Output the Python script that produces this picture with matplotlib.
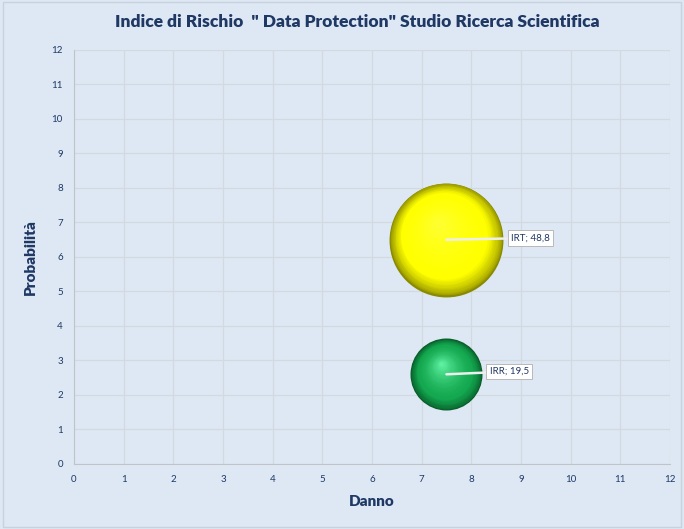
import numpy as np
import matplotlib
matplotlib.use("Agg")
import matplotlib.pyplot as plt
from matplotlib import transforms
from matplotlib.colors import to_rgb

# data
names = ["IRT", "IRR"]
danno = [7.5, 7.5]
probabilita = [6.5, 2.6]
valori = [48.8, 19.5]
etichette = ["IRT; 48,8", "IRR; 19,5"]
colori = [("#ffff30", "#ffff00", "#8a8a00"), ("#5cf0a0", "#14a850", "#075a28")]
ticks = list(range(0, 13))

plt.rcParams['font.family'] = ['Lato', 'DejaVu Sans']
navy = "#1f3864"
bg = "#dde8f4"

fig = plt.figure(figsize=(6.84, 5.29), dpi=100, facecolor=bg)
ax = fig.add_axes([0.108, 0.1229, 0.8715, 0.7826])
ax.set_facecolor(bg)

ax.set_xlim(0, 12)
ax.set_ylim(0, 12)
ax.set_xticks(ticks)
ax.set_yticks(ticks)
ax.grid(True, color="#d3d9e0", linewidth=0.9)
ax.set_axisbelow(True)
for s in ["top", "right"]:
    ax.spines[s].set_visible(False)
for s in ["bottom", "left"]:
    ax.spines[s].set_color("#c0c4c8")
ax.tick_params(length=0, labelsize=7, labelcolor=navy, pad=8)

k = 137.8  # area scale: points^2 per unit
n_layers = 45
for x, y, v, (light, mid, dark) in zip(danno, probabilita, valori, colori):
    s = k * v
    r = np.sqrt(s) / 2  # radius in points
    c_light = np.array(to_rgb(light))
    c_mid = np.array(to_rgb(mid))
    c_dark = np.array(to_rgb(dark))
    for i in range(n_layers):
        t = i / (n_layers - 1)
        frac = 1 - t * 0.95
        size = s * frac ** 2
        off = r * (1 - frac) * 0.3
        tr = transforms.offset_copy(ax.transData, fig=fig, x=-off * 0.5, y=off, units="points")
        if t < 0.25:
            col = c_dark + (c_mid - c_dark) * (t / 0.25) ** 0.7
        else:
            col = c_mid + (c_light - c_mid) * ((t - 0.25) / 0.75) ** 1.5
        col = np.clip(col, 0, 1)
        ax.scatter([x], [y], s=size, color=col, transform=tr, linewidths=0, zorder=3 + i * 0.01)

# data labels
label_pos = [(8.8, 6.55), (8.37, 2.68)]
for x, y, lab, (lx, ly) in zip(danno, probabilita, etichette, label_pos):
    ax.annotate(lab, xy=(x, y), xytext=(lx, ly), fontsize=7, color=navy,
                va="center", ha="left", zorder=10,
                bbox=dict(boxstyle="square,pad=0.35", fc="white", ec="#b0b0b0", lw=0.6),
                arrowprops=dict(arrowstyle="-", color="#eeeeee", lw=1.8,
                                shrinkA=0, shrinkB=0))

fig.text(0.522, 0.958, 'Indice di Rischio  " Data Protection" Studio Ricerca Scientifica',
         ha="center", va="center", fontsize=12.5, fontweight="heavy", color=navy)
ax.set_xlabel("Danno", fontsize=11, fontweight="heavy", color=navy, labelpad=8)
ax.set_ylabel("Probabilità", fontsize=11, fontweight="heavy", color=navy, labelpad=10)

fig.patches.append(plt.Rectangle((0.004, 0.004), 0.992, 0.992, transform=fig.transFigure,
                                 fill=False, ec="#c8d2dc", lw=1))

fig.savefig("out.png", dpi=100, facecolor=bg)
